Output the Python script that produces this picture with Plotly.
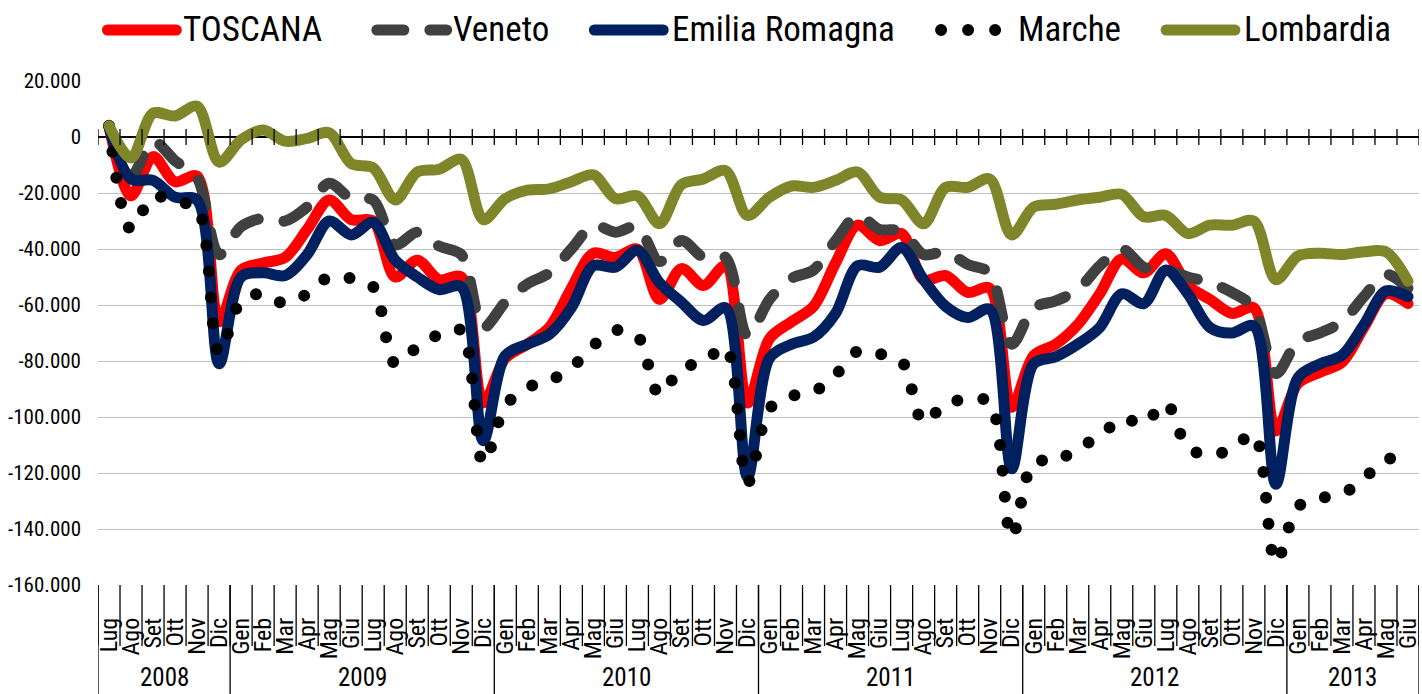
import plotly.graph_objects as go

# ---------------- data ----------------
month_names = ["Gen", "Feb", "Mar", "Apr", "Mag", "Giu",
               "Lug", "Ago", "Set", "Ott", "Nov", "Dic"]
years = ["2008", "2009", "2010", "2011", "2012", "2013"]
# months covered for each year (first month index, count)
year_first_month = [6, 0, 0, 0, 0, 0]
year_month_count = [6, 12, 12, 12, 12, 6]

toscana = [
    4000, -21000, -7000, -16000, -14000, -66000,
    -47500, -45000, -43000, -33000, -22500, -29500, -30000, -50000, -44000, -51000, -50000, -95000,
    -79000, -74000, -68000, -54000, -41500, -43000, -40000, -58000, -47000, -53000, -46000, -95000,
    -72000, -66000, -60500, -45000, -31500, -37000, -34500, -51000, -49500, -55500, -54000, -96500,
    -78000, -74000, -67000, -56000, -43500, -48500, -41700, -53000, -58000, -63000, -61000, -105000,
    -88000, -84000, -80500, -68000, -56000, -59500,
]
veneto = [
    4000, -14000, -1500, -8500, -14500, -42000,
    -32000, -29000, -30000, -25000, -16500, -22000, -22500, -38500, -34000, -39000, -42000, -68000,
    -59000, -52500, -48500, -40000, -31500, -34000, -32000, -44500, -37000, -43000, -43000, -71000,
    -58000, -50500, -47500, -37000, -28000, -33000, -33500, -42000, -41000, -45500, -48500, -74000,
    -61000, -58500, -54500, -46000, -40000, -46500, -47500, -50000, -52000, -55500, -61000, -84500,
    -73000, -70000, -66000, -57000, -49000, -54000,
]
emilia = [
    3500, -15000, -15500, -21500, -22500, -81000,
    -50000, -48500, -49500, -42000, -30000, -35000, -30500, -44000, -50000, -54500, -53500, -108500,
    -78000, -74000, -70500, -61000, -46000, -46500, -40500, -52000, -59000, -65500, -61000, -121500,
    -79000, -74000, -71500, -63000, -46000, -46500, -39500, -51000, -60500, -64500, -61500, -118500,
    -81000, -78500, -74000, -68000, -56000, -59500, -47500, -56000, -68000, -70000, -67500, -124000,
    -86000, -81000, -78000, -67000, -55000, -57000,
]
marche = [
    4000, -33000, -21000, -23500, -25000, -77000,
    -58500, -56000, -59500, -56000, -50000, -50500, -53500, -81000, -75000, -70500, -69000, -116500,
    -96000, -89500, -87000, -82500, -74500, -69000, -71000, -92000, -82500, -80500, -75000, -123500,
    -97000, -92500, -91000, -85000, -76500, -77500, -80000, -102000, -95000, -94000, -94500, -143000,
    -116000, -116000, -111000, -107000, -100500, -102500, -95000, -111000, -113500, -111500, -106000, -152000,
    -132000, -129000, -127500, -122000, -115000, -116000,
]
lombardia = [
    4000, -7500, 8500, 7500, 11000, -9000,
    -1000, 2500, -1500, -500, 1500, -9500, -11000, -22500, -12500, -11500, -8000, -29500,
    -22000, -19000, -18500, -16000, -13500, -22000, -21000, -31000, -17000, -15000, -12000, -28000,
    -21500, -17500, -18000, -15500, -12500, -21500, -22500, -31000, -18000, -18000, -15000, -35000,
    -25000, -24000, -22500, -21500, -20500, -28500, -28000, -34500, -31500, -31500, -30000, -51000,
    -42500, -41500, -42000, -41000, -41000, -51500,
]
y_ticks = [20000, 0, -20000, -40000, -60000, -80000, -100000, -120000, -140000, -160000]

series_names = ["TOSCANA", "Veneto", "Emilia Romagna", "Marche", "Lombardia"]
series_values = [toscana, veneto, emilia, marche, lombardia]

# ---------------- categories ----------------
month_labels = []
year_of_month = []
for y, first, cnt in zip(years, year_first_month, year_month_count):
    for k in range(cnt):
        month_labels.append(month_names[first + k])
        year_of_month.append(y)
x_idx = list(range(len(month_labels)))

# ---------------- styles ----------------
FONT = "Liberation Sans Narrow, Arial Narrow, Roboto Condensed, DejaVu Sans Condensed, Roboto, sans-serif"
styles = [
    dict(color="#FF0000", width=11, dash="solid", legdash="solid"),
    dict(color="#404040", width=11, dash="27px,26px", legdash="27px,26px"),
    dict(color="#002060", width=11, dash="solid", legdash="solid"),
    dict(color="#000000", width=12, dash="0px,26px", legdash="0px,27px"),
    dict(color="#7F862A", width=11, dash="solid", legdash="solid"),
]
legend_pos = [  # symbol start/end (visible px), text left px
    (102, 182, 182),
    (372, 453, 453),
    (590, 670, 672),
    (937, 1004, 1019),
    (1163, 1243, 1246),
]

L, R, T, B = 98, 1422, 81, 585
W, H = 1422, 694


def xp(px):
    return (px - L) / (R - L)


def yp(py):
    return (B - py) / (B - T)


fig = go.Figure()
for name, vals, st in zip(series_names, series_values, styles):
    fig.add_trace(go.Scatter(
        x=x_idx, y=vals, name=name, mode="lines",
        line=dict(color=st["color"], width=st["width"], dash=st["dash"],
                  shape="spline", smoothing=0.9),
        showlegend=False, hoverinfo="x+y+name",
    ))

shapes = []
n = len(x_idx)
bounds = [i - 0.5 for i in range(n + 1)]
# cross ticks on the zero axis line
for b in bounds:
    shapes.append(dict(type="line", xref="x", yref="y", x0=b, x1=b,
                       ysizemode="pixel", yanchor=0, y0=-8, y1=8,
                       line=dict(color="black", width=1.3), layer="above"))
# month separators below plot
for b in bounds:
    shapes.append(dict(type="line", xref="x", yref="paper", x0=b, x1=b,
                       ysizemode="pixel", yanchor=0, y0=0, y1=-61,
                       line=dict(color="black", width=1.3)))
# year dividers
group_bounds = [0]
for i in range(1, n):
    if year_of_month[i] != year_of_month[i - 1]:
        group_bounds.append(i)
group_bounds.append(n)
for g in group_bounds:
    shapes.append(dict(type="line", xref="x", yref="paper", x0=g - 0.5, x1=g - 0.5,
                       ysizemode="pixel", yanchor=0, y0=0, y1=-110,
                       line=dict(color="black", width=1.3)))

annotations = []
for a, bnd in zip(group_bounds[:-1], group_bounds[1:]):
    annotations.append(dict(x=(a + bnd - 1) / 2, xref="x", y=0, yref="paper",
                            yshift=-92, text=year_of_month[a], showarrow=False,
                            yanchor="middle", xanchor="center", borderpad=0,
                            font=dict(family=FONT, size=25, color="black")))

# custom legend
LEG_Y = 30
for name, st, (s0, s1, tx) in zip(series_names, styles, legend_pos):
    r = st["width"] / 2
    shapes.append(dict(type="line", xref="paper", yref="paper",
                       x0=xp(s0 + r), x1=xp(s1 - r), y0=yp(LEG_Y), y1=yp(LEG_Y),
                       line=dict(color=st["color"], width=st["width"], dash=st["legdash"])))
    annotations.append(dict(x=xp(tx), y=yp(LEG_Y), xref="paper", yref="paper",
                            text=name, showarrow=False, xanchor="left", yanchor="middle",
                            borderpad=0,
                            font=dict(family=FONT, size=35, color="black")))

fig.update_layout(
    width=W, height=H,
    margin=dict(l=L, r=W - R, t=T, b=H - B, pad=0),
    paper_bgcolor="white", plot_bgcolor="white",
    showlegend=False,
    shapes=shapes, annotations=annotations,
    font=dict(family=FONT, color="black"),
    xaxis=dict(range=[-0.5, n - 0.5], tickmode="array", tickvals=x_idx,
               ticktext=month_labels, tickangle=-90, showgrid=False,
               zeroline=False, showline=False, ticks="",
               tickfont=dict(family=FONT, size=24, color="black"),
               ticklabelstandoff=27, ticklabeloverflow="allow", fixedrange=True),
    yaxis=dict(range=[-160000, 20000], tickmode="array", tickvals=y_ticks,
               ticktext=[f"{v:,}".replace(",", ".") for v in y_ticks],
               showgrid=True, gridcolor="#BFBFBF", gridwidth=1.3,
               zeroline=True, zerolinecolor="black", zerolinewidth=1.5,
               showline=False, ticks="",
               tickfont=dict(family=FONT, size=21, color="black"),
               ticklabelstandoff=16, fixedrange=True),
)

post = """
document.body.style.margin = '0';
document.body.style.padding = '0';
var gd = document.getElementById('{plot_id}');
gd.querySelectorAll('.scatterlayer path.js-line, .shapelayer path').forEach(function(p){
  var w = parseFloat(p.style.strokeWidth || '0');
  if (w > 4) { p.style.strokeLinecap = 'round'; p.style.strokeLinejoin = 'round'; }
});
"""
fig.write_html("out.html", post_script=post, config={"displayModeBar": False})
